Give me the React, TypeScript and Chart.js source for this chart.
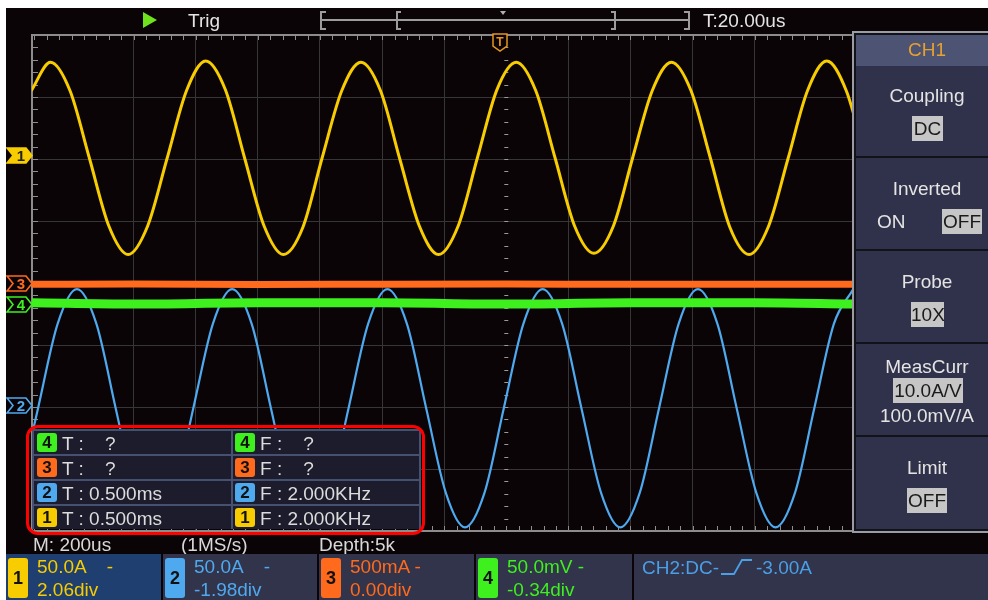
import React, { useEffect, useRef } from 'react';
import { Chart, registerables } from 'chart.js';
Chart.register(...registerables);

const FONT = "'Liberation Sans', Arial, sans-serif";

// time axis in microseconds (200 us / div)
const US_PER_DIV = 200;
const X_MIN = -1527.5;
const X_MAX = 1113.4;
const Y_DIVS = 4;

// channel settings: volts(amps)/div and position offset in div
const CH_NAMES = ['CH1', 'CH2', 'CH3', 'CH4'];
const CH_SCALE = [50, 50, 500, 50]; // A, A, mA, mV per div
const CH_OFFSET = [2.06, -1.98, 0.0, -0.34];
const CH_COLORS = ['#f7cc00', '#4fa9ee', '#ff6a1c', '#3ef01e'];
const CH_WIDTH = [3, 2.2, 7, 9];

// CH1 samples (us, A)
const CH1_T = [-1530, -1468, -1405, -1343, -1280, -1218, -1155, -1093, -1030, -968, -905, -843, -780, -718, -655, -593, -530, -468, -405, -343, -280, -218, -155, -93, -30, 32, 95, 157, 220, 282, 345, 407, 470, 532, 595, 657, 720, 782, 845, 907, 970, 1032, 1095, 1157];
const CH1_A = [52, 75, 52, -2, -57, -80, -57, -3, 52, 76, 53, -2, -57, -80, -58, -2, 52, 75, 52, -3, -57, -80, -57, -2, 53, 75, 52, -2, -57, -79, -57, -2, 52, 75, 52, -2, -58, -80, -57, -3, 52, 76, 52, -2];

// CH2 samples (us, A)
const CH2_T = [-1570, -1508, -1445, -1383, -1320, -1258, -1195, -1133, -1070, -1008, -945, -883, -820, -758, -695, -633, -570, -508, -445, -383, -320, -258, -195, -133, -70, -8, 55, 117, 180, 242, 305, 367, 430, 492, 555, 617, 680, 742, 805, 867, 930, 992, 1055, 1117];
const CH2_A = [-70, -2, 66, 94, 66, -2, -70, -98, -70, -2, 66, 94, 66, -2, -70, -98, -70, -2, 66, 94, 66, -2, -70, -98, -70, -2, 66, 94, 66, -2, -70, -98, -70, -2, 66, 94, 66, -2, -70, -98, -70, -2, 66, 94];

// CH3 samples (us, mA) and CH4 samples (us, mV)
const CH3_T = [-1528, -1200, -800, -400, 0, 400, 800, 1114];
const CH3_A = [-10, -8, -12, -10, -9, -11, -10, -10];
const CH4_T = [-1528, -1200, -800, -400, 0, 400, 800, 1114];
const CH4_V = [1, 0, 1, 1, 0, 1, 1, 0];

const MEAS_ROWS = [
  { ch: 4, t: 'T :    ?', f: 'F :    ?' },
  { ch: 3, t: 'T :    ?', f: 'F :    ?' },
  { ch: 2, t: 'T : 0.500ms', f: 'F : 2.000KHz' },
  { ch: 1, t: 'T : 0.500ms', f: 'F : 2.000KHz' },
];

const STATUS = [
  { ch: 1, l1: '50.0A    -', l2: '2.06div' },
  { ch: 2, l1: '50.0A    -', l2: '-1.98div' },
  { ch: 3, l1: '500mA -', l2: '0.00div' },
  { ch: 4, l1: '50.0mV -', l2: '-0.34div' },
];

const isMajor = (v: number, step: number) => Math.abs(v / step - Math.round(v / step)) < 1e-6;

const scopeFrame = {
  id: 'scopeFrame',
  beforeDatasetsDraw(chart: any) {
    const { ctx, chartArea: a, scales } = chart;
    const xs = scales.x, ys = scales.y;
    ctx.save();
    ctx.strokeStyle = '#8e8e8e';
    ctx.lineWidth = 1;
    const x0 = xs.getPixelForValue(0);
    const y0 = ys.getPixelForValue(0);
    ctx.beginPath();
    for (let v = Math.ceil(X_MIN / 40) * 40; v <= X_MAX; v += 40) {
      const px = Math.round(xs.getPixelForValue(v)) + 0.5;
      ctx.moveTo(px, a.top); ctx.lineTo(px, a.top + 5);
      ctx.moveTo(px, a.bottom); ctx.lineTo(px, a.bottom - 5);
    }
    for (let i = -20; i <= 20; i++) {
      const py = Math.round(ys.getPixelForValue(i * 0.2)) + 0.5;
      ctx.moveTo(a.left, py); ctx.lineTo(a.left + 6, py);
    }
    ctx.stroke();
    ctx.strokeStyle = '#9a9a9a';
    ctx.beginPath();
    for (let i = -20; i <= 20; i++) {
      const py = Math.round(ys.getPixelForValue(i * 0.2)) + 0.5;
      ctx.moveTo(x0 - 2, py); ctx.lineTo(x0 + 2, py);
    }
    for (let v = Math.ceil(X_MIN / 40) * 40; v <= X_MAX; v += 40) {
      const px = Math.round(xs.getPixelForValue(v)) + 0.5;
      ctx.moveTo(px, y0 - 2); ctx.lineTo(px, y0 + 2);
    }
    ctx.stroke();
    ctx.strokeStyle = '#8c8c8c';
    ctx.lineWidth = 2;
    ctx.beginPath();
    ctx.moveTo(a.right, a.top); ctx.lineTo(a.left, a.top); ctx.lineTo(a.left, a.bottom); ctx.lineTo(a.right, a.bottom);
    ctx.stroke();
    ctx.restore();
  },
};

function Txt({ x, y, s = 19, c = '#e4e4e4', center = false, children }: any) {
  return (
    <div style={{
      position: 'absolute', left: center ? x - 100 : x, width: center ? 200 : undefined,
      top: y - s / 2 - 1, height: s + 2, lineHeight: `${s + 2}px`, fontSize: s, color: c,
      fontFamily: FONT, whiteSpace: 'pre', textAlign: center ? 'center' : 'left',
    }}>{children}</div>
  );
}

function Box({ x, y, w, h, children }: any) {
  return (
    <div style={{
      position: 'absolute', left: x, top: y, width: w, height: h, background: '#c6c6c6',
      color: '#1a1a1a', fontFamily: FONT, fontSize: 19, lineHeight: `${h}px`, textAlign: 'center',
    }}>{children}</div>
  );
}

function ChMarker({ y, color, label, filled }: any) {
  return (
    <svg style={{ position: 'absolute', left: 6, top: y - 8 }} width={27} height={17}>
      <polygon points="1,1 20,1 26,8.5 20,16 1,16 7,8.5" fill={filled ? color : '#0a0407'} stroke={color} strokeWidth={1.6} />
      <text x={15} y={14} textAnchor="middle" fontSize={15} fontFamily={FONT} fontWeight="bold" fill={filled ? '#222' : color}>{label}</text>
    </svg>
  );
}

function Badge({ x, y, w, h, ch, s = 17 }: any) {
  return (
    <div style={{
      position: 'absolute', left: x, top: y, width: w, height: h, background: CH_COLORS[ch - 1],
      borderRadius: 3, color: '#111', fontFamily: FONT, fontWeight: 'bold', fontSize: s,
      lineHeight: `${h}px`, textAlign: 'center',
    }}>{ch}</div>
  );
}

export default function App() {
  const ref = useRef<HTMLCanvasElement>(null);

  useEffect(() => {
    const series = [
      { t: CH3_T, v: CH3_A, ch: 2 },
      { t: CH4_T, v: CH4_V, ch: 3 },
      { t: CH1_T, v: CH1_A, ch: 0 },
      { t: CH2_T, v: CH2_A, ch: 1 },
    ];
    const datasets = series.map((s) => ({
      label: CH_NAMES[s.ch],
      data: s.t.map((t, i) => ({ x: t, y: s.v[i] })),
      yAxisID: 'y' + (s.ch + 1),
      borderColor: CH_COLORS[s.ch],
      borderWidth: CH_WIDTH[s.ch],
      pointRadius: 0,
      cubicInterpolationMode: 'monotone' as const,
      fill: false,
    }));
    const chScales: any = {};
    CH_SCALE.forEach((sc, i) => {
      chScales['y' + (i + 1)] = {
        type: 'linear', display: false,
        min: (-Y_DIVS - CH_OFFSET[i]) * sc, max: (Y_DIVS - CH_OFFSET[i]) * sc,
      };
    });
    const chart = new Chart(ref.current!, {
      type: 'line',
      data: { datasets },
      options: {
        animation: false,
        responsive: false,
        maintainAspectRatio: false,
        layout: { padding: { left: 32, top: 35, right: 136, bottom: 69 } },
        plugins: { legend: { display: false }, tooltip: { enabled: false } },
        scales: {
          x: {
            type: 'linear', min: X_MIN, max: X_MAX,
            ticks: { display: false, stepSize: US_PER_DIV },
            grid: {
              drawTicks: false, lineWidth: 1,
              color: (c: any) => (Math.abs(c.tick.value) < 1e-6 || !isMajor(c.tick.value, US_PER_DIV) ? 'rgba(0,0,0,0)' : '#363636'),
            },
            border: { display: false },
          },
          y: {
            type: 'linear', min: -Y_DIVS, max: Y_DIVS,
            ticks: { display: false, stepSize: 1 },
            grid: {
              drawTicks: false, lineWidth: 1,
              color: (c: any) => (Math.abs(c.tick.value) < 1e-6 ? 'rgba(0,0,0,0)' : '#363636'),
            },
            border: { display: false },
          },
          ...chScales,
        },
      },
      plugins: [scopeFrame],
    });
    return () => chart.destroy();
  }, []);

  const rowTop = (i: number) => 431 + 25 * i;

  return (
    <div style={{ position: 'absolute', left: 0, top: 0, width: 988, height: 600, background: '#ffffff', overflow: 'hidden' }}>
      <div style={{ position: 'absolute', left: 6, top: 8, width: 982, height: 592, background: '#0a0407' }} />
      <canvas ref={ref} width={988} height={600} style={{ position: 'absolute', left: 0, top: 0, width: 988, height: 600 }} />

      {/* top bar */}
      <svg style={{ position: 'absolute', left: 0, top: 8 }} width={988} height={27}>
        <polygon points="143,4 157,12 143,20" fill="#6ee21c" />
        <g stroke="#9c9c9c" strokeWidth={2} fill="none">
          <polyline points="326,4 321,4 321,21 326,21" />
          <line x1={322} y1={12} x2={688} y2={12} />
          <polyline points="401,4 397,4 397,21 401,21" />
          <polyline points="611,4 615,4 615,21 611,21" />
          <polyline points="684,4 689,4 689,21 684,21" />
        </g>
        <polygon points="500,3 506,3 503,7" fill="#b0b0b0" />
      </svg>
      <Txt x={188} y={20}>Trig</Txt>
      <Txt x={703} y={20}>T:20.00us</Txt>

      {/* trigger marker */}
      <svg style={{ position: 'absolute', left: 491, top: 33 }} width={18} height={20}>
        <polygon points="2,1 16,1 16,13 9,18 2,13" fill="#0a0407" stroke="#e2961e" strokeWidth={1.5} />
        <text x={9} y={13} textAnchor="middle" fontSize={12} fontFamily={FONT} fontWeight="bold" fill="#e2961e">T</text>
      </svg>

      {/* channel markers */}
      <ChMarker y={155} color={CH_COLORS[0]} label="1" filled />
      <ChMarker y={283} color={CH_COLORS[2]} label="3" />
      <ChMarker y={304} color={CH_COLORS[3]} label="4" />
      <ChMarker y={405} color={CH_COLORS[1]} label="2" />

      {/* right menu */}
      <div style={{ position: 'absolute', left: 852, top: 31, width: 136, height: 502, boxSizing: 'border-box', background: '#121219', borderLeft: '2px solid #9c9ca4', borderTop: '2px solid #9c9ca4', borderBottom: '2px solid #9c9ca4' }} />
      <div style={{ position: 'absolute', left: 856, top: 35, width: 132, height: 31, background: '#4c5373' }} />
      {[[66, 156], [158, 249], [251, 342], [344, 435], [437, 529]].map(([a, b], i) => (
        <div key={i} style={{ position: 'absolute', left: 856, top: a, width: 132, height: b - a, background: '#30314a' }} />
      ))}
      <Txt x={927} y={49} c="#e8a030" center>CH1</Txt>
      <Txt x={927} y={95} center>Coupling</Txt>
      <Box x={912} y={116} w={31} h={25}>DC</Box>
      <Txt x={927} y={188} center>Inverted</Txt>
      <Txt x={877} y={221}>ON</Txt>
      <Box x={942} y={209} w={40} h={25}>OFF</Box>
      <Txt x={927} y={281} center>Probe</Txt>
      <Box x={911} y={302} w={33} h={25}>10X</Box>
      <Txt x={927} y={366} center>MeasCurr</Txt>
      <Box x={893} y={378} w={70} h={25}>10.0A/V</Box>
      <Txt x={927} y={415} center>100.0mV/A</Txt>
      <Txt x={927} y={467} center>Limit</Txt>
      <Box x={907} y={488} w={40} h={25}>OFF</Box>

      {/* measurement table */}
      <div style={{ position: 'absolute', left: 32, top: 429, width: 389, height: 100, background: '#465070' }} />
      {MEAS_ROWS.map((r, i) => (
        <React.Fragment key={i}>
          <div style={{ position: 'absolute', left: 34, top: rowTop(i), width: 197, height: 23, background: '#1c1c2c' }} />
          <div style={{ position: 'absolute', left: 233, top: rowTop(i), width: 186, height: 23, background: '#1c1c2c' }} />
          <Badge x={37} y={rowTop(i) + 2} w={20} h={19} ch={r.ch} />
          <Badge x={235} y={rowTop(i) + 2} w={20} h={19} ch={r.ch} />
          <Txt x={62} y={rowTop(i) + 12} c="#dcdcdc">{r.t}</Txt>
          <Txt x={260} y={rowTop(i) + 12} c="#dcdcdc">{r.f}</Txt>
        </React.Fragment>
      ))}
      <div style={{ position: 'absolute', left: 26, top: 425, width: 399, height: 110, boxSizing: 'border-box', border: '3px solid #ff0000', borderRadius: 12 }} />

      {/* acquisition info */}
      <Txt x={33} y={544} c="#d8d8d8">M: 200us</Txt>
      <Txt x={181} y={544} c="#d8d8d8">(1MS/s)</Txt>
      <Txt x={319} y={544} c="#d8d8d8">Depth:5k</Txt>

      {/* status bar */}
      {STATUS.map((s, i) => {
        const left = [6, 163, 319, 476][i];
        const right = [161, 317, 474, 632][i];
        return (
          <React.Fragment key={i}>
            <div style={{ position: 'absolute', left, top: 554, width: right - left, height: 46, background: i === 0 ? '#1e3f70' : '#32344c' }} />
            <Badge x={left + 2} y={558} w={20} h={40} ch={s.ch} s={18} />
            <Txt x={left + 31} y={566} c={CH_COLORS[s.ch - 1]}>{s.l1}</Txt>
            <Txt x={left + 31} y={589} c={CH_COLORS[s.ch - 1]}>{s.l2}</Txt>
          </React.Fragment>
        );
      })}
      <div style={{ position: 'absolute', left: 634, top: 554, width: 354, height: 46, background: '#32344c' }} />
      <Txt x={642} y={567} c="#4a9fe6">CH2:DC-</Txt>
      <svg style={{ position: 'absolute', left: 718, top: 556 }} width={36} height={22}>
        <polyline points="3,18 16,18 24,4 34,4" fill="none" stroke="#4a9fe6" strokeWidth={1.8} />
      </svg>
      <Txt x={756} y={567} c="#4a9fe6">-3.00A</Txt>
    </div>
  );
}
